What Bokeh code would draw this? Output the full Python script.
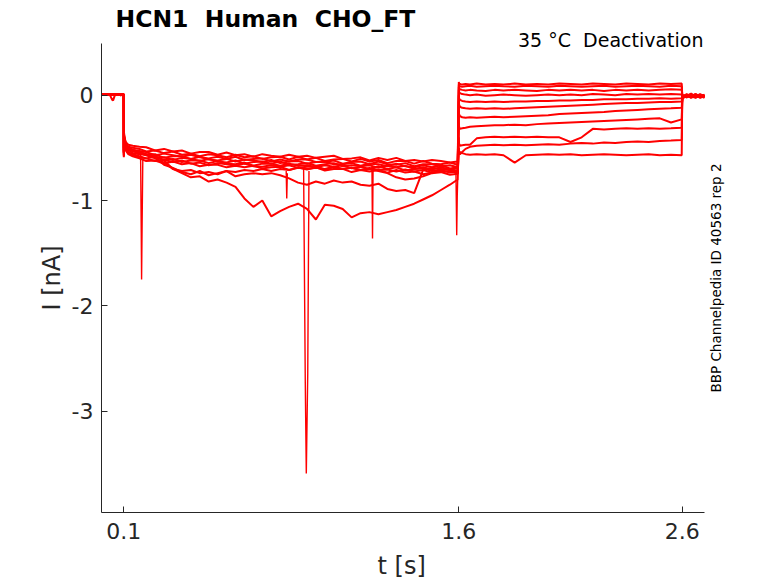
import math
from bokeh.plotting import figure
from bokeh.models import Label, FixedTicker, Range1d, Title
from bokeh.embed import file_html
from bokeh.resources import INLINE

# ---------------- data ----------------
t_hold = [0.0, 0.012, 0.025, 0.038, 0.048, 0.052, 0.06, 0.072, 0.085, 0.0995]
t_act = [0.1, 0.101, 0.105, 0.11, 0.12, 0.14, 0.17,
         0.20, 0.24, 0.28, 0.32, 0.36, 0.40, 0.44, 0.48, 0.52, 0.56,
         0.60, 0.64, 0.68, 0.72, 0.76, 0.80, 0.84, 0.88, 0.92, 0.96,
         1.00, 1.04, 1.08, 1.12, 1.16, 1.20, 1.24, 1.28, 1.32, 1.36,
         1.40, 1.44, 1.48, 1.52, 1.56, 1.595]
t_tail = [1.6, 1.601, 1.605, 1.615, 1.63, 1.65, 1.68, 1.72, 1.76, 1.80, 1.85,
          1.90, 1.95, 2.00, 2.05, 2.10, 2.15, 2.20, 2.25, 2.30, 2.35, 2.40,
          2.45, 2.50, 2.55, 2.598]
t_end = [2.6, 2.602, 2.62, 2.64, 2.66, 2.68, 2.70]

hold_i = [
    [0.01, 0.0, 0.01, 0.005, 0.0, 0.01, 0.005, 0.01, 0.0, 0.005],
    [0.0, 0.01, 0.0, 0.01, 0.005, 0.0, 0.01, 0.0, 0.01, 0.0],
    [0.005, 0.0, 0.01, 0.0, -0.045, -0.05, 0.0, 0.005, 0.01, 0.005],
    [0.01, 0.005, 0.0, 0.01, 0.0, 0.005, 0.01, 0.0, 0.005, 0.01],
    [0.0, 0.005, 0.01, 0.0, 0.01, 0.0, 0.005, 0.01, 0.0, 0.005],
    [0.005, 0.01, 0.0, 0.005, 0.01, 0.005, 0.0, 0.01, 0.005, 0.0],
    [0.01, 0.0, 0.005, 0.01, 0.0, 0.01, 0.0, 0.005, 0.01, 0.005],
    [0.0, 0.01, 0.005, 0.0, 0.005, 0.01, 0.005, 0.0, 0.01, 0.0],
    [0.005, 0.0, 0.01, 0.005, 0.0, 0.005, 0.01, 0.005, 0.0, 0.01],
    [0.01, 0.005, 0.0, 0.005, 0.01, 0.0, 0.005, 0.0, 0.005, 0.01],
    [0.0, 0.01, 0.005, 0.01, 0.0, 0.005, 0.01, 0.005, 0.0, 0.005],
]

act_i = [
    [-0.50, -0.36, -0.42, -0.45, -0.47, -0.48, -0.49,
     -0.495, -0.525, -0.51, -0.535, -0.525, -0.555, -0.54, -0.54, -0.565, -0.545,
     -0.57, -0.56, -0.585, -0.56, -0.575, -0.585, -0.565, -0.585, -0.575, -0.595,
     -0.585, -0.575, -0.605, -0.60, -0.59, -0.62, -0.595, -0.615, -0.595, -0.625,
     -0.615, -0.63, -0.615, -0.625, -0.64, -0.63],
    [-0.52, -0.38, -0.43, -0.46, -0.49, -0.50, -0.51,
     -0.535, -0.525, -0.55, -0.535, -0.565, -0.555, -0.58, -0.56, -0.57, -0.59,
     -0.565, -0.59, -0.58, -0.605, -0.59, -0.585, -0.61, -0.585, -0.61, -0.595,
     -0.625, -0.61, -0.605, -0.63, -0.605, -0.63, -0.615, -0.645, -0.625, -0.625,
     -0.65, -0.625, -0.65, -0.655, -0.64, -0.66],
    [-0.54, -0.40, -0.44, -0.48, -0.50, -0.52, -0.53,
     -0.54, -0.57, -0.555, -0.57, -0.585, -0.565, -0.59, -0.60, -0.585, -0.605,
     -0.585, -0.615, -0.605, -0.60, -0.63, -0.61, -0.63, -0.61, -0.61, -0.635,
     -0.635, -0.62, -0.65, -0.635, -0.63, -0.655, -0.63, -0.655, -0.66, -0.645,
     -0.675, -0.655, -0.655, -0.675, -0.665, -0.685],
    [-0.54, -0.40, -0.45, -0.48, -0.50, -0.52, -0.54,
     -0.56, -0.58, -0.62, -0.70, -0.72, -0.71, -0.74, -0.73, -0.75, -0.72,
     -0.73, -0.71, -0.72, -0.70, -0.72, -0.70, -0.71, -0.69, -0.70, -0.69,
     -0.70, -0.68, -0.70, -0.69, -0.71, -0.70, -0.72, -0.74, -0.78, -0.80,
     -0.79, -0.77, -0.74, -0.73, -0.72, -0.74],
    [-0.55, -0.41, -0.46, -0.49, -0.51, -0.53, -0.55,
     -0.565, -0.56, -0.595, -0.58, -0.58, -0.605, -0.585, -0.61, -0.62, -0.605,
     -0.63, -0.61, -0.62, -0.635, -0.615, -0.645, -0.63, -0.625, -0.65, -0.635,
     -0.63, -0.655, -0.655, -0.645, -0.67, -0.65, -0.655, -0.675, -0.65, -0.675,
     -0.685, -0.665, -0.685, -0.665, -0.695, -0.685],
    [-0.56, -0.42, -0.47, -0.50, -0.52, -0.55, -0.56,
     -0.565, -0.59, -0.59, -0.615, -0.595, -0.605, -0.625, -0.605, -0.63, -0.64,
     -0.62, -0.65, -0.635, -0.63, -0.65, -0.63, -0.66, -0.655, -0.645, -0.67,
     -0.655, -0.645, -0.675, -0.665, -0.675, -0.665, -0.69, -0.67, -0.685, -0.67,
     -0.70, -0.685, -0.705, -0.685, -0.705, -0.695],
    [-0.53, -0.39, -0.44, -0.47, -0.50, -0.52, -0.54,
     -0.56, -0.59, -0.66, -0.69, -0.73, -0.75, -0.72, -0.76, -0.74, -0.72,
     -0.77, -0.75, -0.74, -0.75, -0.74, -0.76, -0.79, -0.83, -0.85, -0.82,
     -0.84, -0.81, -0.83, -0.82, -0.85, -0.86, -0.84, -0.89, -0.91, -0.90,
     -0.93, -0.71, -0.69, -0.70, -0.71, -0.73],
    [-0.57, -0.43, -0.48, -0.51, -0.54, -0.56, -0.58,
     -0.60, -0.585, -0.615, -0.605, -0.635, -0.62, -0.62, -0.645, -0.625, -0.65,
     -0.655, -0.64, -0.67, -0.65, -0.65, -0.67, -0.65, -0.67, -0.665, -0.685,
     -0.665, -0.68, -0.665, -0.695, -0.68, -0.70, -0.675, -0.70, -0.685, -0.715,
     -0.70, -0.695, -0.72, -0.705, -0.70, -0.725],
    [-0.55, -0.40, -0.45, -0.48, -0.51, -0.53, -0.55,
     -0.57, -0.60, -0.64, -0.70, -0.74, -0.78, -0.77, -0.82, -0.80, -0.83,
     -0.87, -0.98, -1.06, -1.00, -1.15, -1.10, -1.06, -1.03, -1.08, -1.18,
     -1.04, -1.05, -1.08, -1.16, -1.12, -1.11, -1.13, -1.11, -1.09, -1.06,
     -1.03, -0.99, -0.95, -0.90, -0.85, -0.80],
    [-0.58, -0.44, -0.49, -0.52, -0.55, -0.57, -0.59,
     -0.60, -0.625, -0.615, -0.635, -0.62, -0.65, -0.64, -0.665, -0.645, -0.655,
     -0.67, -0.65, -0.675, -0.68, -0.665, -0.68, -0.665, -0.69, -0.68, -0.675,
     -0.705, -0.685, -0.70, -0.69, -0.71, -0.69, -0.71, -0.705, -0.725, -0.705,
     -0.725, -0.71, -0.735, -0.71, -0.735, -0.725],
    [-0.59, -0.45, -0.50, -0.53, -0.56, -0.58, -0.60,
     -0.625, -0.62, -0.65, -0.63, -0.655, -0.645, -0.675, -0.66, -0.66, -0.685,
     -0.67, -0.685, -0.67, -0.695, -0.685, -0.68, -0.71, -0.685, -0.705, -0.685,
     -0.715, -0.70, -0.70, -0.73, -0.71, -0.725, -0.71, -0.735, -0.71, -0.735,
     -0.725, -0.75, -0.735, -0.73, -0.755, -0.745],
]

tail_i = [
    [0.125, 0.11, 0.105, 0.1, 0.105, 0.1, 0.11, 0.1, 0.105, 0.1, 0.11, 0.1, 0.105,
     0.1, 0.11, 0.105, 0.1, 0.11, 0.105, 0.1, 0.11, 0.105, 0.1, 0.11, 0.105, 0.11],
    [0.1, 0.09, 0.085, 0.08, 0.085, 0.09, 0.08, 0.085, 0.09, 0.085, 0.08, 0.09, 0.085,
     0.08, 0.09, 0.085, 0.08, 0.085, 0.09, 0.08, 0.085, 0.09, 0.085, 0.08, 0.09, 0.085],
    [0.08, 0.06, 0.055, 0.05, 0.045, 0.05, 0.045, 0.04, 0.05, 0.045, 0.05, 0.045, 0.04,
     0.05, 0.045, 0.05, 0.045, 0.05, 0.04, 0.05, 0.045, 0.05, 0.045, 0.05, 0.055, 0.05],
    [0.05, 0.03, 0.02, 0.01, 0.005, 0.0, 0.005, -0.005, 0.0, 0.005, 0.0, -0.005, 0.0,
     0.005, 0.0, 0.005, 0.0, 0.01, 0.005, 0.0, 0.01, 0.005, 0.01, 0.005, 0.01, 0.005],
    [0.0, -0.03, -0.045, -0.055, -0.06, -0.065, -0.06, -0.065, -0.06, -0.065, -0.06,
     -0.06, -0.055, -0.055, -0.05, -0.05, -0.045, -0.045, -0.04, -0.04, -0.04, -0.035,
     -0.035, -0.03, -0.035, -0.03],
    [-0.06, -0.09, -0.11, -0.12, -0.125, -0.13, -0.125, -0.13, -0.125, -0.13, -0.125,
     -0.12, -0.115, -0.11, -0.105, -0.1, -0.095, -0.09, -0.085, -0.08, -0.075, -0.075,
     -0.07, -0.065, -0.065, -0.06],
    [-0.15, -0.18, -0.2, -0.21, -0.215, -0.21, -0.215, -0.21, -0.205, -0.21, -0.205,
     -0.2, -0.195, -0.19, -0.18, -0.175, -0.17, -0.165, -0.16, -0.15, -0.145, -0.14,
     -0.135, -0.13, -0.125, -0.12],
    [-0.26, -0.3, -0.32, -0.315, -0.31, -0.3, -0.295, -0.29, -0.285, -0.285, -0.28,
     -0.285, -0.275, -0.27, -0.265, -0.26, -0.255, -0.25, -0.245, -0.24, -0.235, -0.23,
     -0.225, -0.22, -0.26, -0.23],
    [-0.4, -0.46, -0.48, -0.475, -0.47, -0.47, -0.41, -0.40, -0.395, -0.40, -0.395,
     -0.40, -0.395, -0.40, -0.40, -0.445, -0.40, -0.32, -0.325, -0.32, -0.315, -0.32,
     -0.315, -0.32, -0.315, -0.31],
    [-0.5, -0.55, -0.56, -0.54, -0.51, -0.49, -0.48, -0.475, -0.47, -0.475, -0.47,
     -0.475, -0.47, -0.465, -0.47, -0.46, -0.455, -0.46, -0.45, -0.455, -0.445, -0.44,
     -0.445, -0.435, -0.43, -0.425],
    [-0.5, -0.53, -0.54, -0.55, -0.56, -0.565, -0.56, -0.565, -0.56, -0.57, -0.64,
     -0.57, -0.565, -0.56, -0.565, -0.56, -0.57, -0.565, -0.56, -0.565, -0.57, -0.565,
     -0.56, -0.57, -0.565, -0.57],
]

end_i = [
    [0.02, -0.01, 0.0, -0.02, 0.01, -0.01, 0.0],
    [0.01, -0.02, 0.01, -0.01, 0.0, -0.02, -0.01],
    [0.0, -0.01, -0.02, 0.0, -0.015, 0.01, -0.01],
    [-0.01, 0.0, -0.01, 0.015, -0.02, 0.0, -0.015],
    [-0.02, -0.01, 0.0, -0.02, 0.01, -0.015, -0.005],
    [-0.03, 0.0, -0.015, -0.005, -0.02, 0.005, -0.01],
    [-0.04, -0.015, 0.005, -0.01, -0.025, 0.0, -0.02],
    [-0.05, -0.02, -0.005, 0.01, -0.015, -0.02, 0.0],
    [-0.06, -0.01, -0.02, 0.0, 0.005, -0.025, -0.01],
    [-0.07, -0.02, 0.0, -0.025, -0.005, -0.01, 0.005],
    [-0.08, -0.03, -0.01, 0.005, -0.02, -0.005, -0.025],
]

spike_t = [
    [0.175, 0.178, 0.1795, 0.182, 0.185],
    [0.905, 0.9125, 0.9135, 0.917, 0.9235, 0.929],
    [0.827, 0.8295, 0.832],
    [1.211, 1.2135, 1.216],
    [1.587, 1.5905, 1.593, 1.595],
]
spike_i = [
    [-0.56, -1.3, -1.75, -1.2, -0.6],
    [-0.70, -2.73, -2.93, -3.59, -2.64, -0.72],
    [-0.72, -0.98, -0.74],
    [-0.68, -1.36, -0.70],
    [-0.72, -1.33, -0.95, -0.80],
]

x_ticks = [0.1, 1.6, 2.6]
y_ticks = [-3, -2, -1, 0]
title_text = "HCN1 \u00a0Human \u00a0CHO_FT"
cond_text = "35 \u00b0C \u00a0Deactivation"
side_text = "BBP Channelpedia ID 40563 rep 2"
x_label = "t [s]"
y_label = "I [nA]"

# ---------------- figure ----------------
FONT = "DejaVu Sans"
AX = "#262626"
RED = "#ff0000"

# axes extent (data) and the frame, which is larger so that texts are not clipped
ax_x0, ax_x1 = 0.0, 2.7
ax_y0, ax_y1 = -3.96, 0.49
fr_x1 = 3.0224
fr_y1 = 0.879

p = figure(width=778, height=583, output_backend="svg", toolbar_location=None,
           x_range=Range1d(ax_x0, fr_x1), y_range=Range1d(ax_y0, fr_y1),
           min_border_left=101, min_border_right=2,
           min_border_top=2, min_border_bottom=71)
p.outline_line_color = None
p.grid.visible = False
p.background_fill_color = "white"
p.border_fill_color = "white"

for k in range(len(act_i)):
    xs = t_hold + t_act + t_tail + t_end
    ys = hold_i[k] + act_i[k] + tail_i[k] + end_i[k]
    p.line(xs, ys, line_color=RED, line_width=2.0)

p.multi_line(spike_t, spike_i, line_color=RED, line_width=1.4)

for ax in (p.xaxis[0], p.yaxis[0]):
    ax.axis_line_color = AX
    ax.major_tick_line_color = AX
    ax.minor_tick_line_color = None
    ax.major_tick_in = 6
    ax.major_tick_out = 0
    ax.major_label_text_font = FONT
    ax.major_label_text_font_size = "22px"
    ax.major_label_text_color = AX

p.xaxis.bounds = (ax_x0, ax_x1)
p.xaxis.ticker = FixedTicker(ticks=x_ticks, minor_ticks=[])
p.xaxis.major_label_overrides = {v: f"{v:.1f}" for v in x_ticks}
p.xaxis.major_label_standoff = 10
# a blank axis label only reserves a little room between tick labels and the x title
p.xaxis.axis_label = "\u00a0"
p.xaxis.axis_label_text_font_size = "7px"
p.xaxis.axis_label_standoff = 0

p.yaxis.bounds = (ax_y0, ax_y1)
p.yaxis.ticker = FixedTicker(ticks=y_ticks, minor_ticks=[])
p.yaxis.major_label_overrides = {v: str(v) for v in y_ticks}
p.yaxis.major_label_standoff = 8

# axis titles, placed along the drawn part of each axis
p.add_layout(Title(text=x_label, align="left", offset=276, standoff=0,
                   vertical_align="top", text_font=FONT, text_font_size="24px",
                   text_font_style="normal", text_color=AX), "below")
p.add_layout(Title(text=y_label, align="left", offset=202, standoff=6,
                   vertical_align="bottom", text_font=FONT, text_font_size="24px",
                   text_font_style="normal", text_color=AX), "left")

p.add_layout(Label(x=ax_x0, y=ax_y1, x_offset=14, y_offset=24, text=title_text,
                   text_font=FONT, text_font_size="23.5px", text_font_style="bold",
                   text_color="black", text_align="left", text_baseline="alphabetic"))
p.add_layout(Label(x=ax_x1, y=ax_y1, x_offset=-1, y_offset=3, text=cond_text,
                   text_font=FONT, text_font_size="19px", text_color="black",
                   text_align="right", text_baseline="alphabetic"))
p.add_layout(Label(x=ax_x1, y=(ax_y0 + ax_y1) / 2, x_offset=12, angle=math.pi / 2,
                   text=side_text, text_font=FONT, text_font_size="13.5px",
                   text_color="black", text_align="center", text_baseline="alphabetic"))

open("out.html", "w").write(file_html(p, INLINE))
